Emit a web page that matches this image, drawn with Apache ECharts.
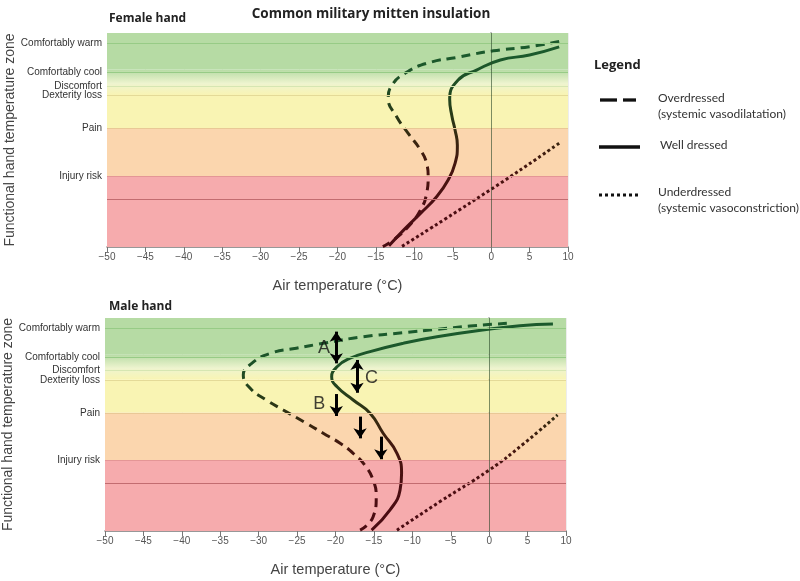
<!DOCTYPE html>
<html><head><meta charset="utf-8">
<script src="https://cdn.jsdelivr.net/npm/echarts@6/dist/echarts.min.js"></script>
<style>html,body{margin:0;padding:0;background:#fff}#c{width:800px;height:581px}</style>
</head><body><div id="c"></div>
<script>
// ---- data ----
const zoneLabels = ['Comfortably warm','Comfortably cool','Discomfort','Dexterity loss','Pain','Injury risk'];
const zoneTicks  = [95.3, 81.8, 75.3, 71.0, 55.5, 33.2];
const severeLine = 22.3;

// [air temperature °C, hand-zone position]
const femaleOver  = [[8.85,96.1],[5,93.6],[0.3,91.7],[-4,88.9],[-8.4,85.8],[-11.2,81.2],[-12.9,75.7],[-13.4,69.5],[-12.3,60.9],[-10.8,53.1],[-9.2,45.3],[-8.4,39.1],[-8.2,32.9],[-8.4,25.1],[-9.2,17.3],[-10.8,9.5],[-12.7,3.3],[-14.1,0.2]];
const femaleWell  = [[8.85,93.5],[5,89.7],[1.2,87.4],[-1.9,82.7],[-4.3,78],[-5.4,69],[-5.1,61],[-4.7,54.7],[-4.4,47.5],[-4.7,39.1],[-5.6,31.3],[-7.1,23.5],[-9.2,15.7],[-11.4,7.9],[-13.3,0.6]];
const femaleUnder = [[-11.6,0.3],[1.2,29.8],[8.85,48.5]];

const maleOver  = [[2.3,97.5],[-0.1,96.9],[-2.5,96.2],[-6.8,94.7],[-11.2,93.1],[-16.4,91.2],[-21.6,88.1],[-25.1,85.8],[-28.5,83.4],[-30.9,78.7],[-32,73.2],[-31.1,67],[-29,61.5],[-26.8,56.8],[-23.8,50.6],[-21.6,45.9],[-19.4,41.2],[-17.7,36.5],[-16.2,31],[-15.1,23.9],[-14.7,16.1],[-15.1,6.7],[-16.8,0.4]];
const maleWell  = [[8.3,97.2],[4,96.4],[-0.1,94.7],[-6.8,91.2],[-11.2,88.1],[-15.5,84.2],[-18.1,81.1],[-19.8,77.1],[-20.5,72.4],[-19.8,67.7],[-17.7,61.5],[-15.5,55.3],[-13.8,45.9],[-12,36.5],[-11.4,27.1],[-11.6,19.2],[-12.9,9.9],[-15.3,0.4]];
const maleUnder = [[-12,0.4],[-6.4,13.8],[0,28.6],[4.5,41],[8.9,54.5]];

// arrows: [x, yStart, yEnd]
const doubleArrows = [[-19.9,93.6,78.7],[-17.2,80.3,64.9]];
const downArrows   = [[-19.9,64.3,54.0],[-16.8,53.7,43.5],[-14.1,44.3,33.7]];
const arrowLetters = [[-21.5,85.8,'A'],[-15.3,71.7,'C'],[-22.1,59.5,'B']];

// ---- styling helpers ----
const FONT = 'Liberation Sans';
const lineColors = ['#4b0c12','#4b0c12','#4b0e12','#4a1210','#43180f','#38260f','#2b3816','#22471f','#1d5328','#1b5a2c','#1b5a2c'];
const zoneLineColors = ['#97cb86','#97cb86','#d6e6b2','#e4da98','#e9c896','#e49696'];

function fmtX(v){ return v < 0 ? '\u2212' + Math.abs(v) : String(v); }
function fmtY(v){
  let best = 0, d = 1e9;
  zoneTicks.forEach((t,i)=>{ if (Math.abs(t-v) < d){ d = Math.abs(t-v); best = i; } });
  return zoneLabels[best];
}

function xAxis(idx){
  return {
    type:'value', gridIndex: idx, min:-50, max:10, interval:5,
    name:'Air temperature (°C)', nameLocation:'middle', nameGap:31, nameMoveOverlap:false,
    nameTextStyle:{fontFamily:FONT, fontSize:14.5, color:'#444'},
    axisLine:{show:true, onZero:false, lineStyle:{color:'#777', width:1.5}},
    axisTick:{show:true, length:5, lineStyle:{color:'#777'}},
    axisLabel:{formatter:fmtX, fontFamily:FONT, fontSize:10, color:'#555', margin:5},
    splitLine:{show:true, lineStyle:{color:'rgba(0,0,0,0.07)', width:1}}
  };
}
function yAxis(idx){
  return {
    type:'value', gridIndex: idx, min:0, max:100,
    name:'Functional hand temperature zone', nameLocation:'middle', nameGap:90, nameRotate:90, nameMoveOverlap:false,
    nameTextStyle:{fontFamily:FONT, fontSize:14, color:'#444'},
    axisLine:{show:true, lineStyle:{color:'#777', width:1.5}},
    axisTick:{show:true, length:4, customValues:zoneTicks, lineStyle:{color:'#555'}},
    axisLabel:{customValues:zoneTicks, formatter:fmtY, fontFamily:FONT, fontSize:10, color:'#333', margin:5},
    splitLine:{show:false}
  };
}

function helperSeries(idx){
  const hLines = zoneTicks.map((t,i)=>({yAxis:t, lineStyle:{color:zoneLineColors[i], width:1, type:'solid'}}));
  hLines.push({yAxis:severeLine, lineStyle:{color:'#c26c70', width:1, type:'solid'}});
  hLines.push({xAxis:0, lineStyle:{color:'rgba(40,70,40,0.6)', width:1, type:'solid'}});
  return {
    type:'line', xAxisIndex:idx, yAxisIndex:idx, data:[], z:1, silent:true,
    markArea:{silent:true, data:[
      [{yAxis:83, itemStyle:{color:'#b6dba4'}},{yAxis:100}],
      [{yAxis:71, itemStyle:{color:{type:'linear',x:0,y:0,x2:0,y2:1,colorStops:[
        {offset:0,color:'#b6dba4'},{offset:0.55,color:'#eef4cf'},{offset:1,color:'#f9f4b3'}]}}},{yAxis:83}],
      [{yAxis:55.5, itemStyle:{color:'#f9f4b3'}},{yAxis:71}],
      [{yAxis:33.2, itemStyle:{color:'#fbd6ae'}},{yAxis:55.5}],
      [{yAxis:0, itemStyle:{color:'#f6abad'}},{yAxis:33.2}]
    ]},
    markLine:{silent:true, symbol:['none','none'], label:{show:false}, animation:false, data:hLines}
  };
}

function curve(idx, data, dash){
  return {
    type:'line', xAxisIndex:idx, yAxisIndex:idx, data:data, showSymbol:false, smooth:0.5, z:3,
    lineStyle:{width:3, type:dash, cap:'butt'}, animation:false
  };
}

const arrowData = doubleArrows.map(a=>[{coord:[a[0],a[1]], symbol:'arrow'},{coord:[a[0],a[2]], symbol:'arrow'}])
  .concat(downArrows.map(a=>[{coord:[a[0],a[1]], symbol:'none'},{coord:[a[0],a[2]], symbol:'arrow'}]));

const option = {
  animation:false,
  backgroundColor:'#fff',
  title:[
    {text:'Common military mitten insulation', left:366, textAlign:'center', top:2,
     textStyle:{fontFamily:'Open Sans', fontWeight:'bold', fontSize:13.5, color:'#222'}},
    {text:'Female hand', left:104, top:8, textStyle:{fontFamily:'Open Sans', fontWeight:'bold', fontSize:12, color:'#222'}},
    {text:'Male hand', left:104, top:296, textStyle:{fontFamily:'Open Sans', fontWeight:'bold', fontSize:12, color:'#222'}}
  ],
  grid:[
    {left:107, top:33, width:461, height:214, containLabel:false, outerBoundsMode:'none'},
    {left:105, top:318, width:461, height:213, containLabel:false, outerBoundsMode:'none'}
  ],
  xAxis:[xAxis(0), xAxis(1)],
  yAxis:[yAxis(0), yAxis(1)],
  visualMap:[{type:'continuous', show:false, dimension:1, min:0, max:100, seriesIndex:[1,2,3,5,6,7],
    inRange:{color:lineColors}}],
  series:[
    helperSeries(0),
    curve(0, femaleOver, [9,6]),
    curve(0, femaleWell, 'solid'),
    curve(0, femaleUnder, [3,2.6]),
    helperSeries(1),
    curve(1, maleOver, [9,6]),
    curve(1, maleWell, 'solid'),
    curve(1, maleUnder, [3,2.6]),
    {type:'line', xAxisIndex:1, yAxisIndex:1, data:[], z:5, silent:true,
     markLine:{silent:true, symbolSize:[10,10], label:{show:false}, animation:false,
       lineStyle:{color:'#000', width:3, type:'solid'}, data:arrowData}},
    {type:'scatter', xAxisIndex:1, yAxisIndex:1, symbolSize:0, z:6, silent:true, data:arrowLetters,
     label:{show:true, position:'inside', formatter:p=>p.value[2], fontFamily:FONT, fontSize:18, color:'#111'}}
  ],
  graphic:[
    {type:'text', left:594, top:59, style:{text:'Legend', font:'bold 13px "Open Sans"', fill:'#222'}},
    {type:'line', shape:{x1:600,y1:100,x2:617,y2:100}, style:{stroke:'#111', lineWidth:3.3}},
    {type:'line', shape:{x1:623,y1:100,x2:636,y2:100}, style:{stroke:'#111', lineWidth:3.3}},
    {type:'text', left:658, top:92, style:{text:'Overdressed', font:'12px Lato', fill:'#333'}},
    {type:'text', left:658, top:108, style:{text:'(systemic vasodilatation)', font:'12px Lato', fill:'#333'}},
    {type:'line', shape:{x1:599,y1:147,x2:640,y2:147}, style:{stroke:'#111', lineWidth:3.3}},
    {type:'text', left:660, top:139, style:{text:'Well dressed', font:'12px Lato', fill:'#333'}},
    {type:'line', shape:{x1:599,y1:195,x2:640,y2:195}, style:{stroke:'#111', lineWidth:3, lineDash:[3,3]}},
    {type:'text', left:658, top:186, style:{text:'Underdressed', font:'12px Lato', fill:'#333'}},
    {type:'text', left:658, top:202, style:{text:'(systemic vasoconstriction)', font:'12px Lato', fill:'#333'}}
  ]
};
const chart = echarts.init(document.getElementById('c'), null, {renderer:'canvas'});
chart.setOption(option);
</script>
</body></html>
